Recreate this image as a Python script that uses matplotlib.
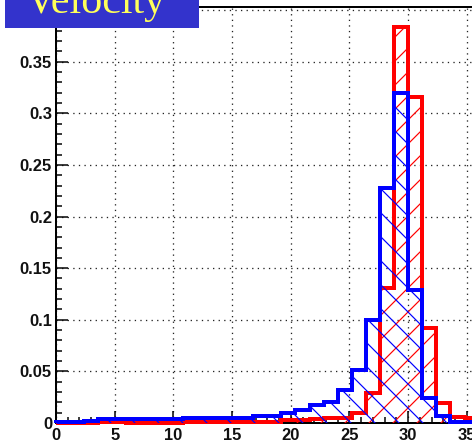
import numpy as np
import matplotlib
matplotlib.use("Agg")
import matplotlib.pyplot as plt
from matplotlib.ticker import MultipleLocator, FuncFormatter, FormatStrFormatter
from matplotlib.patches import Rectangle

# histogram binning: 30 bins of width 1.2 between 0 and 36
bin_edges = np.linspace(0, 36, 31)

# red histogram (normalised)
red_vals = [0.0, 0.0, 0.0, 0.0005, 0.0005, 0.0, 0.0, 0.0, 0.0, 0.001,
            0.001, 0.001, 0.001, 0.001, 0.001, 0.001, 0.003, 0.003, 0.004, 0.005,
            0.005, 0.010, 0.029, 0.131, 0.384, 0.316, 0.092, 0.019, 0.006, 0.005]

# blue histogram (normalised)
blue_vals = [0.0005, 0.0005, 0.0015, 0.0035, 0.0035, 0.0035, 0.0035, 0.0035, 0.0035, 0.005,
             0.005, 0.005, 0.005, 0.005, 0.007, 0.007, 0.010, 0.013, 0.017, 0.020,
             0.032, 0.051, 0.100, 0.228, 0.320, 0.129, 0.024, 0.007, 0.001, 0.001]

title_text = "Velocity"

W, H = 472, 443
dpi = 72
plt.rcParams["hatch.linewidth"] = 1.2
fig = plt.figure(figsize=(W / dpi, H / dpi), dpi=dpi)
fig.patch.set_facecolor("white")

# axes: x 0..36 at 11.74 px/unit, extends past the right edge like the cropped original
ax = fig.add_axes([56 / W, 20 / H, 36 * 11.74 / W, 416 / H])
ax.set_xlim(0, 36)
ax.set_ylim(0, 0.403)

ax.stairs(red_vals, bin_edges, baseline=0, fill=True, facecolor="none",
          edgecolor="#ff0000", hatch="/", linewidth=4, zorder=3, clip_on=False)
ax.stairs(blue_vals, bin_edges, baseline=0, fill=True, facecolor="none",
          edgecolor="#0000ff", hatch="\\", linewidth=4, zorder=4, clip_on=False)

# ticks
ax.xaxis.set_major_locator(MultipleLocator(5))
ax.xaxis.set_minor_locator(MultipleLocator(1))
ax.yaxis.set_major_locator(MultipleLocator(0.05))
ax.yaxis.set_minor_locator(MultipleLocator(0.01))
# the 0.4 label sits under the title box, so leave it empty
ax.yaxis.set_major_formatter(FuncFormatter(lambda v, p: "" if v > 0.375 else "%g" % round(v, 3)))
ax.xaxis.set_major_formatter(FormatStrFormatter("%g"))
ax.tick_params(which="both", direction="in", color="black", width=1.5,
               top=False, right=False)
ax.tick_params(which="major", length=12)
ax.tick_params(which="minor", length=6)
ax.tick_params(axis="y", pad=4)
ax.tick_params(axis="x", pad=5)
for lab in ax.get_xticklabels() + ax.get_yticklabels():
    lab.set_fontfamily("Liberation Sans")
    lab.set_fontweight("bold")
    lab.set_fontsize(16.5)
    lab.set_color("#111111")

# dotted grid
ax.set_axisbelow(True)
ax.grid(True, which="major", color="#222222", linewidth=1.3,
        linestyle=(0, (1, 3.3)))

for side in ["left", "bottom", "top"]:
    ax.spines[side].set_linewidth(2)
    ax.spines[side].set_color("black")
ax.spines["right"].set_visible(False)

# title box in the top-left corner
box = Rectangle((5 / W, 1 - 27.5 / H), 194 / W, 27.5 / H, transform=fig.transFigure,
                facecolor="#3333cc", edgecolor="none", zorder=10)
fig.patches.append(box)
fig.text(26 / W, 1 - 13 / H, title_text, fontfamily="Liberation Serif",
         fontsize=42, color="#ffff5a", ha="left", va="baseline", zorder=11)

fig.savefig("out.png", dpi=dpi)
